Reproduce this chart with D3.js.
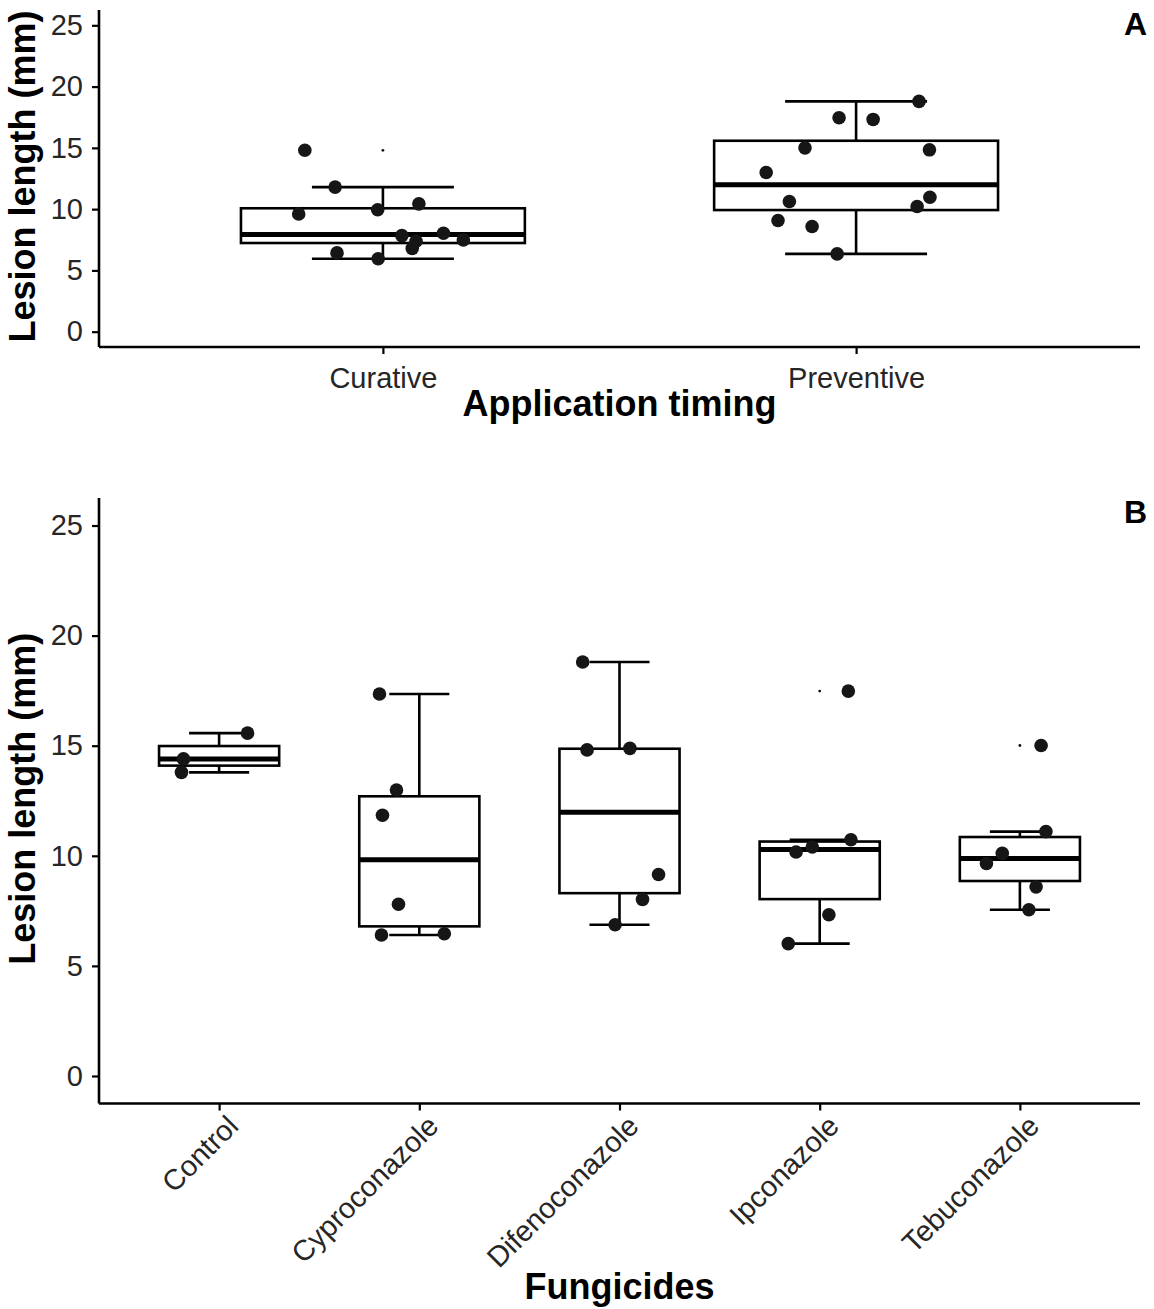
<!DOCTYPE html>
<html>
<head>
<meta charset="utf-8">
<script src="https://cdn.jsdelivr.net/npm/d3@7"></script>
<style>
  body { margin: 0; background: #fff; }
  svg text { font-family: "Liberation Sans", Arial, sans-serif; }
</style>
</head>
<body>
<div id="chart"></div>
<script>
'use strict';

// panel A : application timing
var timingCats = ["Curative", "Preventive"];
var timingValues = [
  [14.8, 11.8, 9.6, 9.95, 10.43, 6.43, 5.95, 7.84, 7.38, 6.8, 8.03, 7.49],
  [18.79, 17.46, 17.32, 15.0, 14.84, 12.99, 10.62, 10.97, 10.21, 9.07, 8.58, 6.35]
];
// horizontal jitter of each point, in category units
var timingJitter = [
  [-0.165, -0.101, -0.178, -0.011, 0.076, -0.097, -0.010, 0.040, 0.070, 0.062, 0.128, 0.170],
  [0.133, -0.036, 0.036, -0.108, 0.155, -0.190, -0.141, 0.156, 0.129, -0.165, -0.093, -0.040]
];

// panel B : fungicides
var fungicideCats = ["Control", "Cyproconazole", "Difenoconazole", "Ipconazole", "Tebuconazole"];
var fungicideValues = [
  [15.57, 14.40, 13.79],
  [17.35, 12.99, 11.84, 7.80, 6.40, 6.46],
  [18.8, 14.81, 14.88, 9.15, 8.02, 6.87],
  [17.48, 10.73, 10.40, 10.17, 7.32, 6.01],
  [15.01, 11.1, 10.11, 9.65, 8.59, 7.55]
];
var fungicideJitter = [
  [0.142, -0.178, -0.188],
  [-0.199, -0.114, -0.184, -0.104, -0.189, 0.125],
  [-0.184, -0.162, 0.052, 0.195, 0.115, -0.022],
  [0.143, 0.156, -0.037, -0.118, 0.046, -0.157],
  [0.106, 0.130, -0.088, -0.167, 0.081, 0.045]
];

var yTicks = [0, 5, 10, 15, 20, 25];

var W = 1154, H = 1309;
var svg = d3.select("#chart").append("svg")
  .attr("width", W).attr("height", H)
  .style("background", "#fff");

// tukey box stats, same quantile rule as R (type 7)
function boxStats(vals) {
  var s = vals.slice().sort(d3.ascending);
  var q1 = d3.quantile(s, 0.25), med = d3.quantile(s, 0.5), q3 = d3.quantile(s, 0.75);
  var iqr = q3 - q1;
  var inside = s.filter(function(v){ return v >= q1 - 1.5*iqr && v <= q3 + 1.5*iqr; });
  return {
    q1: q1, med: med, q3: q3,
    lo: d3.min(inside), hi: d3.max(inside),
    out: s.filter(function(v){ return v < q1 - 1.5*iqr || v > q3 + 1.5*iqr; })
  };
}

function drawPanel(o) {
  var left = 99, right = 1140;
  var g = svg.append("g");

  var x = d3.scalePoint().domain(o.cats).range([left, right]).padding(0.6);
  var y = d3.scaleLinear().domain([-1.25, 26.25]).range([o.bottom, o.top]);
  var step = x.step();

  o.cats.forEach(function(c, i) {
    var cx = x(c);
    var st = boxStats(o.values[i]);
    var bg = g.append("g");

    // errorbar whiskers
    bg.append("line")
      .attr("x1", cx).attr("x2", cx).attr("y1", y(st.hi)).attr("y2", y(st.q3));
    bg.append("line")
      .attr("x1", cx).attr("x2", cx).attr("y1", y(st.lo)).attr("y2", y(st.q1));
    [st.hi, st.lo].forEach(function(v){
      bg.append("line")
        .attr("x1", cx - 0.15*step).attr("x2", cx + 0.15*step)
        .attr("y1", y(v)).attr("y2", y(v));
    });
    bg.selectAll("line").attr("stroke", "#000").attr("stroke-width", 2.6);

    bg.append("rect")
      .attr("x", cx - 0.3*step).attr("width", 0.6*step)
      .attr("y", y(st.q3)).attr("height", y(st.q1) - y(st.q3))
      .attr("fill", "#fff").attr("stroke", "#000").attr("stroke-width", 2.6);
    bg.append("line")
      .attr("x1", cx - 0.3*step).attr("x2", cx + 0.3*step)
      .attr("y1", y(st.med)).attr("y2", y(st.med))
      .attr("stroke", "#000").attr("stroke-width", 5);

    // tiny outlier marks at the box centre
    bg.selectAll("circle.out").data(st.out).enter().append("circle")
      .attr("class", "out")
      .attr("cx", cx).attr("cy", function(d){ return y(d); })
      .attr("r", 1.4).attr("fill", "#111");

    // jittered points
    bg.selectAll("circle.pt").data(o.values[i]).enter().append("circle")
      .attr("class", "pt")
      .attr("cx", function(d, j){ return cx + o.jitter[i][j]*step; })
      .attr("cy", function(d){ return y(d); })
      .attr("r", 6.8).attr("fill", "#161616");
  });

  // axes
  var ya = g.append("g").attr("transform", "translate(" + left + ",0)")
    .call(d3.axisLeft(y).tickValues(yTicks).tickSize(7).tickSizeOuter(0).tickPadding(9));
  var xa = g.append("g").attr("transform", "translate(0," + o.bottom + ")")
    .call(d3.axisBottom(x).tickSize(7).tickSizeOuter(0).tickPadding(8));

  [ya, xa].forEach(function(a){
    a.select(".domain").attr("stroke", "#000").attr("stroke-width", 2.6);
    a.selectAll(".tick line").attr("stroke", "#000").attr("stroke-width", 2.2);
    a.selectAll(".tick text").attr("fill", "#262626").style("font-size", "29px");
  });
  // y-range on axisLeft: extend the line to the corner
  ya.select(".domain").attr("d", "M0," + o.bottom + "V" + o.top);
  xa.select(".domain").attr("d", "M" + left + ",0H" + right);

  if (o.rotate) {
    xa.selectAll(".tick text")
      .attr("text-anchor", "end")
      .attr("dy", "0.72em")
      .attr("transform", "translate(0,4) rotate(-45)")
      .attr("y", 8);
  } else {
    xa.selectAll(".tick text").attr("dy", "0.9em");
  }

  // titles
  g.append("text")
    .attr("transform", "translate(35," + ((o.top + o.bottom)/2 - 2) + ") rotate(-90)")
    .attr("text-anchor", "middle")
    .style("font-size", "36px").style("font-weight", "bold")
    .text("Lesion length (mm)");
  g.append("text")
    .attr("x", (left + right)/2).attr("y", o.titleY)
    .attr("text-anchor", "middle")
    .style("font-size", "36px").style("font-weight", "bold")
    .text(o.xTitle);
  g.append("text")
    .attr("x", 1147).attr("y", o.top + 25)
    .attr("text-anchor", "end")
    .style("font-size", "32px").style("font-weight", "bold")
    .text(o.letter);
}

drawPanel({
  cats: timingCats, values: timingValues, jitter: timingJitter,
  top: 10, bottom: 347, titleY: 416,
  xTitle: "Application timing", letter: "A", rotate: false
});

drawPanel({
  cats: fungicideCats, values: fungicideValues, jitter: fungicideJitter,
  top: 498, bottom: 1103.5, titleY: 1299,
  xTitle: "Fungicides", letter: "B", rotate: true
});
</script>
</body>
</html>
